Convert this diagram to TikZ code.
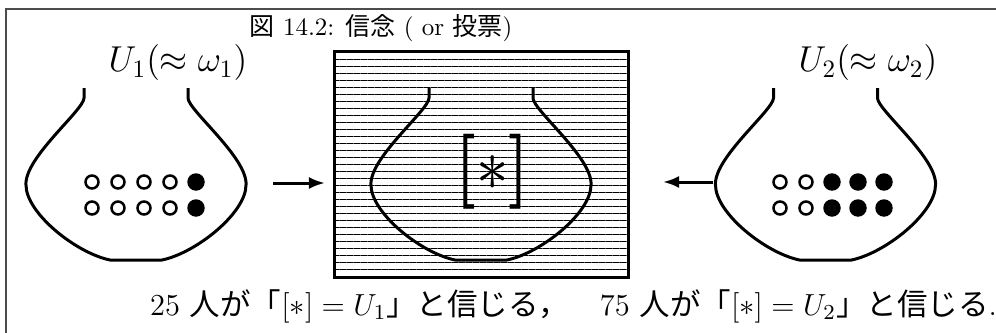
\documentclass[tikz,border=0pt]{standalone}
\usepackage{fix-cm}
\usepackage{fontspec}
\newfontfamily\jp{Noto Sans CJK JP}
\usetikzlibrary{arrows.meta,patterns.meta}
\tikzset{
	frame/.style={draw=black!70,line width=0.8pt},
	vessel/.style={line width=1.2pt,line join=round},
	belief/.style={draw,line width=1.2pt,outer sep=0pt,inner sep=0pt,
		minimum width=117.2pt,minimum height=90pt,
		pattern={Lines[angle=0,distance=2.8pt,line width=0.4pt]}},
	flow/.style={-{Latex[length=6.4pt,width=4.8pt]},line width=1.2pt},
	wball/.style={draw,line width=1pt},
	bball/.style={fill},
	vase/.pic={
		\draw[vessel] (-52,0) -- (-52,10) .. controls (-52,22) and (-112,70) .. (-110,97)
			.. controls (-110,125) and (-60,165) .. (-26,172) -- (26,172)
			.. controls (60,165) and (110,125) .. (110,97)
			.. controls (112,70) and (52,22) .. (52,10) -- (52,0);
	}
}

\begin{document}
\begin{tikzpicture}[x=0.4pt,y=-0.4pt]
	\useasboundingbox (0,0) rectangle (996,333);
	\clip (0,0) rectangle (996,333);
	\draw[frame] (6.5,9.5) rectangle (1010,345);

	\node[anchor=base] (cap) at (381,35) {{\jp 図} 14.2: {\jp 信念} ( or {\jp 投票})};

	% the two urns and the hidden one in between
	\node[belief] (box) at (481.5,164.5) {};
	\pic at (136,88) {vase};
	\pic at (481,88) {vase};
	\pic at (825.5,88) {vase};
	\node (star) at (492.5,171.5) {\scalebox{2.6}[3.0]{{\boldmath$[$}$\ast${\boldmath$]$}}};

	\node[anchor=base,font=\Large] (lab1) at (178,72) {$U_1(\approx\omega_1)$};
	\node[anchor=base,font=\Large] (lab2) at (868,72) {$U_2(\approx\omega_2)$};

	% balls: 2 x 5 in each urn
	\foreach \y in {182,208} {
		\foreach \x in {92,118,144,170} \draw[wball] (\x,\y) circle[radius=2.6pt];
		\fill[bball] (196,\y) circle[radius=3.5pt];
		\foreach \x in {780,806} \draw[wball] (\x,\y) circle[radius=2.6pt];
		\foreach \x in {832,858,884} \fill[bball] (\x,\y) circle[radius=3.5pt];
	}

	\coordinate (src1) at (273,183);
	\coordinate (src2) at (713,182);
	\draw[flow,shorten >=4pt] (src1) -- (src1 -| box.west);
	\draw[flow,shorten >=14pt] (src2) -- (src2 -| box.east);

	\node[anchor=base,font=\fontsize{12.2}{15}\selectfont] (txt) at (573.5,315)
		{25 {\jp 人が「}$[\ast]=U_1${\jp 」と信じる，}\quad 75 {\jp 人が「}$[\ast]=U_2${\jp 」と信じる}.};
\end{tikzpicture}
\end{document}
